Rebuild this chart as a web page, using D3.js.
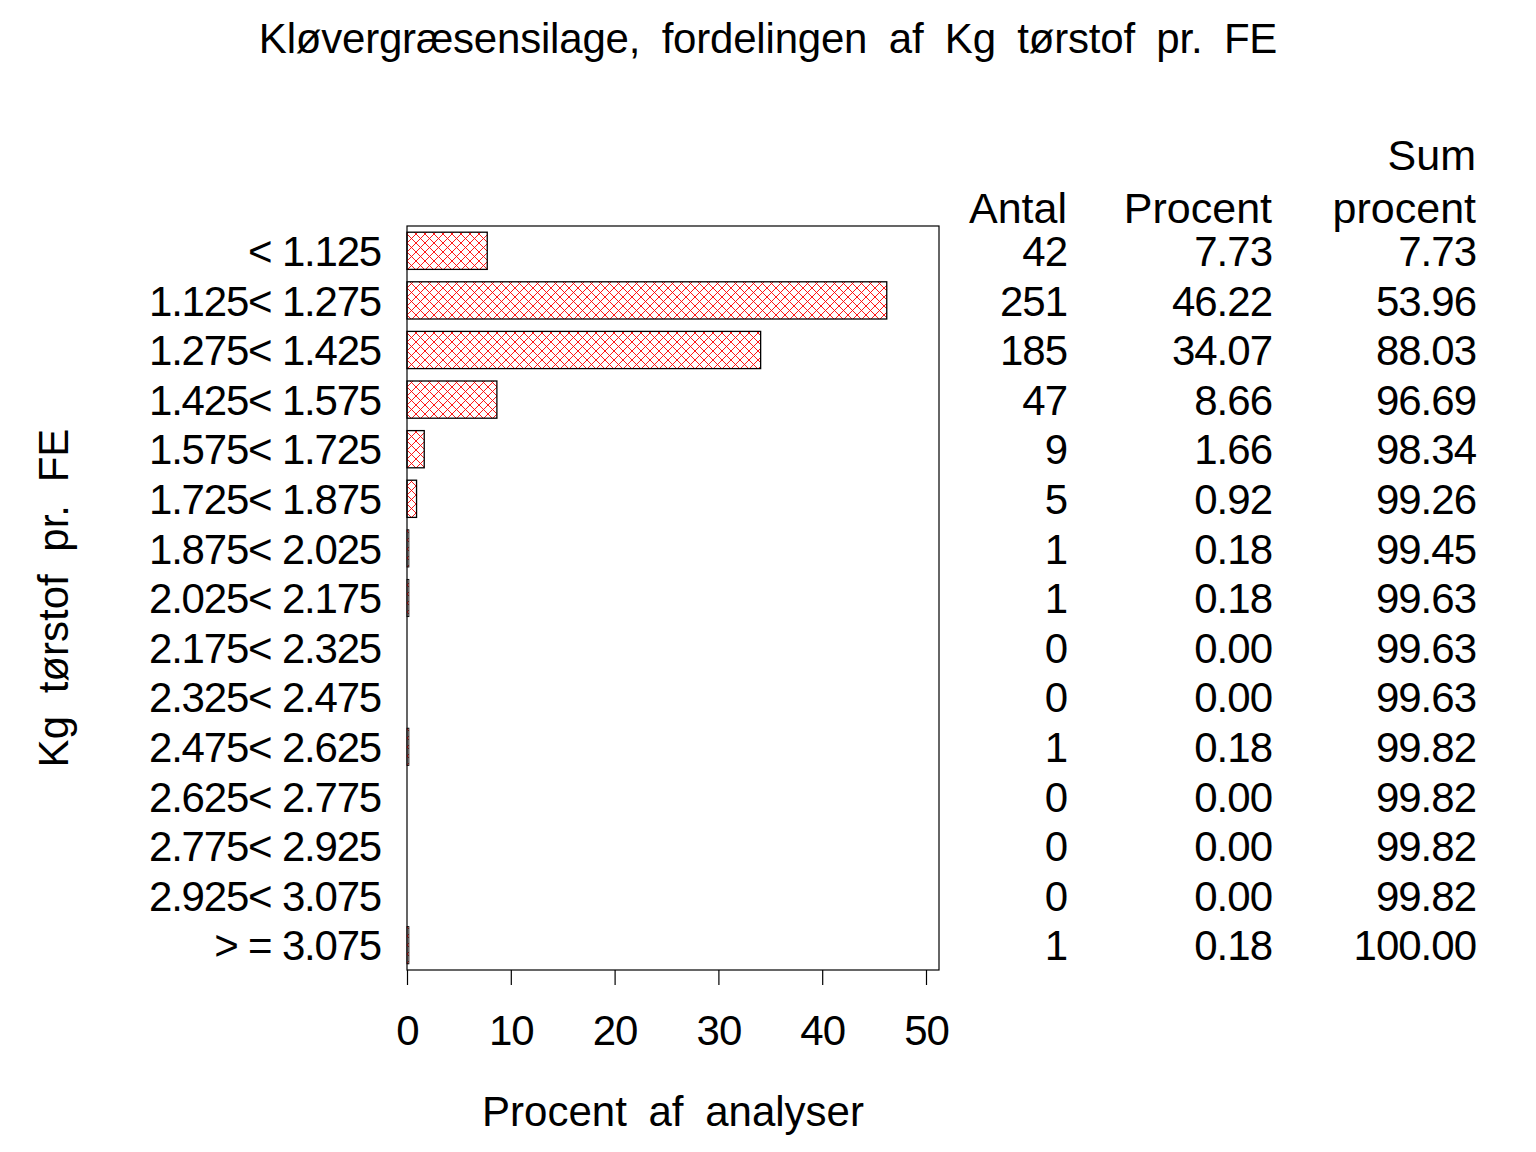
<!DOCTYPE html>
<html><head><meta charset="utf-8">
<script src="https://cdn.jsdelivr.net/npm/d3@7"></script>
<style>
html,body{margin:0;padding:0;background:#fff;}
text{font-family:"Liberation Sans",Arial,sans-serif;fill:#000;}
</style></head>
<body>
<svg id="chart" width="1536" height="1152"></svg>
<script>
const categories = ["< 1.125","1.125< 1.275","1.275< 1.425","1.425< 1.575","1.575< 1.725","1.725< 1.875","1.875< 2.025","2.025< 2.175","2.175< 2.325","2.325< 2.475","2.475< 2.625","2.625< 2.775","2.775< 2.925","2.925< 3.075","> = 3.075"];
const antal = [42,251,185,47,9,5,1,1,0,0,1,0,0,0,1];
const procent = [7.73,46.22,34.07,8.66,1.66,0.92,0.18,0.18,0.00,0.00,0.18,0.00,0.00,0.00,0.18];
const sumProcent = [7.73,53.96,88.03,96.69,98.34,99.26,99.45,99.63,99.63,99.63,99.82,99.82,99.82,99.82,100.00];
const xTicks = [0,10,20,30,40,50];
const title = "Kløvergræsensilage, fordelingen af Kg tørstof pr. FE";
const xTitle = "Procent af analyser";
const yTitle = "Kg tørstof pr. FE";

const svg = d3.select("#chart");
const pLeft = 407, pRight = 939, pTop = 226, pBottom = 970;
const x = d3.scaleLinear().domain([0,50]).range([pLeft, 926]);
const y = d3.scaleBand().domain(categories).range([pTop, pBottom]).paddingInner(0.25).paddingOuter(0.125);

// hatch pattern
const defs = svg.append("defs");
const pat = defs.append("pattern").attr("id","hatch").attr("patternUnits","userSpaceOnUse")
  .attr("width",9).attr("height",9).attr("x",pLeft).attr("y",0);
pat.append("path").attr("d","M0,0 L9,9 M-1,8 L1,10 M8,-1 L10,1").attr("stroke","#ff0000").attr("stroke-width",0.9);
pat.append("path").attr("d","M0,9 L9,0 M-1,1 L1,-1 M8,10 L10,8").attr("stroke","#ff0000").attr("stroke-width",0.9);

// frame
svg.append("rect").attr("x",pLeft).attr("y",pTop).attr("width",pRight-pLeft).attr("height",pBottom-pTop)
  .attr("fill","none").attr("stroke","#000").attr("stroke-width",1.2);

// bars
svg.append("g").selectAll("rect").data(categories.filter((d,i)=>procent[i]>0)).join("rect")
  .attr("x", x(0))
  .attr("y", d=>y(d))
  .attr("width", d=>x(procent[categories.indexOf(d)])-x(0))
  .attr("height", y.bandwidth())
  .attr("fill","url(#hatch)")
  .attr("stroke","#000")
  .attr("stroke-width", d=>procent[categories.indexOf(d)]<0.5 ? 0.9 : 1.3);

// x axis
const xAxis = d3.axisBottom(x).tickValues(xTicks).tickSize(15).tickPadding(30).tickSizeOuter(0);
const gx = svg.append("g").attr("transform",`translate(0,${pBottom})`).call(xAxis);
gx.select(".domain").remove();
gx.selectAll(".tick line").attr("stroke","#000").attr("stroke-width",1.2);
gx.selectAll(".tick text").attr("font-size",42).attr("letter-spacing",-1)
  .attr("font-family","Liberation Sans, Arial, sans-serif").attr("fill","#000");

// y axis labels
const yAxis = d3.axisLeft(y).tickSize(0).tickPadding(26);
const gy = svg.append("g").attr("transform",`translate(${pLeft},0)`).call(yAxis);
gy.select(".domain").remove();
gy.selectAll(".tick text").attr("font-size",42).attr("letter-spacing",-1.2)
  .attr("font-family","Liberation Sans, Arial, sans-serif").attr("fill","#000").attr("dy","0.36em");

// table columns
const cols = [
  {x:1067, head:["","Antal"], vals: antal.map(v=>String(v))},
  {x:1272, head:["","Procent"], vals: procent.map(v=>v.toFixed(2))},
  {x:1476, head:["Sum","procent"], vals: sumProcent.map(v=>v.toFixed(2))}
];
cols.forEach(c=>{
  const g = svg.append("g").attr("text-anchor","end").attr("font-size",42);
  g.append("text").attr("x",c.x).attr("y",170).attr("font-size",43).attr("letter-spacing",0).text(c.head[0]);
  g.append("text").attr("x",c.x).attr("y",223).attr("font-size",43).attr("letter-spacing",0).text(c.head[1]);
  g.selectAll("text.v").data(c.vals).join("text").attr("class","v").attr("letter-spacing",-1)
    .attr("x",c.x).attr("y",(d,i)=>y(categories[i])+y.bandwidth()/2).attr("dy","0.36em").text(d=>d);
});

// titles
svg.append("text").attr("x",768).attr("y",53).attr("text-anchor","middle").attr("font-size",42)
  .attr("word-spacing",10).attr("letter-spacing",-0.2).text(title);
svg.append("text").attr("x",673).attr("y",1126).attr("text-anchor","middle").attr("font-size",42)
  .attr("word-spacing",10).text(xTitle);
svg.append("text").attr("transform","translate(68,598) rotate(-90)").attr("text-anchor","middle").attr("font-size",42)
  .attr("word-spacing",11).text(yTitle);
</script>
</body></html>
